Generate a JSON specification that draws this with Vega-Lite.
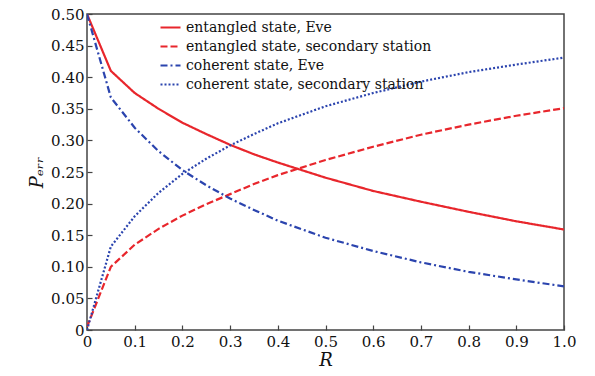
{
  "$schema": "https://vega.github.io/schema/vega-lite/v6.json",
  "width": 477,
  "height": 316,
  "autosize": "none",
  "padding": {"left": 87, "top": 14, "right": 31, "bottom": 46},
  "config": {
    "font": "DejaVu Serif",
    "axis": {"labelFont": "DejaVu Serif", "titleFont": "DejaVu Serif"},
    "view": {"stroke": "#444", "strokeWidth": 1.5}
  },
  "data": {"values": [
    {"s":"entangled state, Eve","R":0,"P":0.5},
    {"s":"entangled state, Eve","R":0.05,"P":0.41},
    {"s":"entangled state, Eve","R":0.1,"P":0.375},
    {"s":"entangled state, Eve","R":0.15,"P":0.35},
    {"s":"entangled state, Eve","R":0.2,"P":0.328},
    {"s":"entangled state, Eve","R":0.25,"P":0.31},
    {"s":"entangled state, Eve","R":0.3,"P":0.293},
    {"s":"entangled state, Eve","R":0.35,"P":0.278},
    {"s":"entangled state, Eve","R":0.4,"P":0.265},
    {"s":"entangled state, Eve","R":0.45,"P":0.253},
    {"s":"entangled state, Eve","R":0.5,"P":0.241},
    {"s":"entangled state, Eve","R":0.6,"P":0.22},
    {"s":"entangled state, Eve","R":0.7,"P":0.203},
    {"s":"entangled state, Eve","R":0.8,"P":0.187},
    {"s":"entangled state, Eve","R":0.9,"P":0.172},
    {"s":"entangled state, Eve","R":1.0,"P":0.159},
    {"s":"entangled state, secondary station","R":0,"P":0.005},
    {"s":"entangled state, secondary station","R":0.05,"P":0.1},
    {"s":"entangled state, secondary station","R":0.1,"P":0.135},
    {"s":"entangled state, secondary station","R":0.15,"P":0.16},
    {"s":"entangled state, secondary station","R":0.2,"P":0.181},
    {"s":"entangled state, secondary station","R":0.25,"P":0.199},
    {"s":"entangled state, secondary station","R":0.3,"P":0.215},
    {"s":"entangled state, secondary station","R":0.35,"P":0.231},
    {"s":"entangled state, secondary station","R":0.4,"P":0.245},
    {"s":"entangled state, secondary station","R":0.5,"P":0.269},
    {"s":"entangled state, secondary station","R":0.6,"P":0.29},
    {"s":"entangled state, secondary station","R":0.7,"P":0.309},
    {"s":"entangled state, secondary station","R":0.8,"P":0.325},
    {"s":"entangled state, secondary station","R":0.9,"P":0.339},
    {"s":"entangled state, secondary station","R":1.0,"P":0.351},
    {"s":"coherent state, Eve","R":0,"P":0.5},
    {"s":"coherent state, Eve","R":0.05,"P":0.368},
    {"s":"coherent state, Eve","R":0.1,"P":0.32},
    {"s":"coherent state, Eve","R":0.15,"P":0.283},
    {"s":"coherent state, Eve","R":0.2,"P":0.253},
    {"s":"coherent state, Eve","R":0.25,"P":0.229},
    {"s":"coherent state, Eve","R":0.3,"P":0.208},
    {"s":"coherent state, Eve","R":0.35,"P":0.19},
    {"s":"coherent state, Eve","R":0.4,"P":0.173},
    {"s":"coherent state, Eve","R":0.5,"P":0.146},
    {"s":"coherent state, Eve","R":0.6,"P":0.125},
    {"s":"coherent state, Eve","R":0.7,"P":0.107},
    {"s":"coherent state, Eve","R":0.8,"P":0.092},
    {"s":"coherent state, Eve","R":0.9,"P":0.08},
    {"s":"coherent state, Eve","R":1.0,"P":0.069},
    {"s":"coherent state, secondary station","R":0,"P":0.0},
    {"s":"coherent state, secondary station","R":0.05,"P":0.132},
    {"s":"coherent state, secondary station","R":0.1,"P":0.18},
    {"s":"coherent state, secondary station","R":0.15,"P":0.217},
    {"s":"coherent state, secondary station","R":0.2,"P":0.247},
    {"s":"coherent state, secondary station","R":0.25,"P":0.271},
    {"s":"coherent state, secondary station","R":0.3,"P":0.292},
    {"s":"coherent state, secondary station","R":0.35,"P":0.31},
    {"s":"coherent state, secondary station","R":0.4,"P":0.327},
    {"s":"coherent state, secondary station","R":0.5,"P":0.354},
    {"s":"coherent state, secondary station","R":0.6,"P":0.375},
    {"s":"coherent state, secondary station","R":0.7,"P":0.393},
    {"s":"coherent state, secondary station","R":0.8,"P":0.408},
    {"s":"coherent state, secondary station","R":0.9,"P":0.42},
    {"s":"coherent state, secondary station","R":1.0,"P":0.431}
  ]},
  "mark": {"type": "line", "strokeWidth": 2.2, "clip": true},
  "encoding": {
    "x": {
      "field": "R", "type": "quantitative",
      "scale": {"domain": [0, 1], "nice": false},
      "axis": {
        "values": [0,0.1,0.2,0.3,0.4,0.5,0.6,0.7,0.8,0.9,1.0],
        "labelExpr": "datum.value == 0 ? '0' : format(datum.value, '.1f')",
        "grid": false, "domain": false,
        "ticks": true, "tickSize": -5, "tickColor": "#444", "tickWidth": 1.2,
        "labelFontSize": 15, "labelColor": "#111", "labelPadding": 9,
        "labelFlush": false,
        "title": "R", "titleFontStyle": "italic", "titleFontWeight": "normal",
        "titleFontSize": 18, "titleColor": "#111", "titlePadding": 2
      }
    },
    "y": {
      "field": "P", "type": "quantitative",
      "scale": {"domain": [0, 0.5], "nice": false},
      "axis": {
        "values": [0,0.05,0.1,0.15,0.2,0.25,0.3,0.35,0.4,0.45,0.5],
        "labelExpr": "datum.value == 0 ? '0' : format(datum.value, '.2f')",
        "grid": false, "domain": false,
        "ticks": true, "tickSize": -5, "tickColor": "#444", "tickWidth": 1.2,
        "labelFontSize": 15, "labelColor": "#111", "labelPadding": 8,
        "labelFlush": false,
        "title": "Pₑᵣᵣ", "titleFontStyle": "italic", "titleFontWeight": "normal",
        "titleFontSize": 18, "titleColor": "#111", "titlePadding": 4
      }
    },
    "color": {
      "field": "s", "type": "nominal",
      "scale": {
        "domain": ["entangled state, Eve","entangled state, secondary station","coherent state, Eve","coherent state, secondary station"],
        "range": ["#e8262c","#e8262c","#2b44ae","#2b44ae"]
      },
      "legend": {
        "orient": "none", "legendX": 72, "legendY": 2, "title": null,
        "symbolType": "stroke", "symbolSize": 400, "symbolStrokeWidth": 2.2,
        "labelFont": "DejaVu Serif",
        "labelFontSize": 14, "labelColor": "#111", "labelOffset": 4,
        "rowPadding": -4, "labelLimit": 400
      }
    },
    "strokeDash": {
      "field": "s", "type": "nominal",
      "scale": {
        "domain": ["entangled state, Eve","entangled state, secondary station","coherent state, Eve","coherent state, secondary station"],
        "range": [[1,0],[7,3],[7,3,2,3],[2,2]]
      },
      "legend": null
    }
  }
}
